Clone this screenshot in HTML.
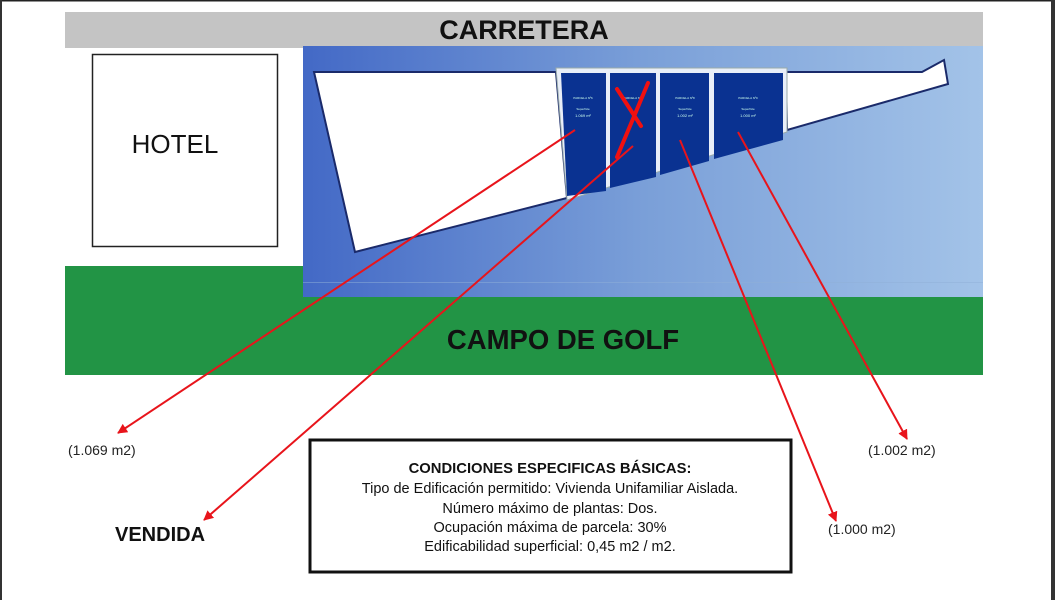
<!DOCTYPE html>
<html><head><meta charset="utf-8"><style>
html,body{margin:0;padding:0;background:#fff;}
body{width:1055px;height:600px;overflow:hidden;position:relative;font-family:"Liberation Sans",sans-serif;}
</style></head><body>
<svg width="1055" height="600" viewBox="0 0 1055 600" xmlns="http://www.w3.org/2000/svg" style="position:absolute;left:0;top:0">
<defs>
<linearGradient id="bg" x1="0" x2="1" y1="0" y2="0">
<stop offset="0" stop-color="#4369c6"/><stop offset="0.5" stop-color="#7a9fd8"/><stop offset="1" stop-color="#a3c3e8"/>
</linearGradient>
<marker id="ah" viewBox="0 0 10 10" refX="9" refY="5" markerWidth="5" markerHeight="5" orient="auto"><path d="M0,0 L10,5 L0,10 z" fill="#e8141b"/></marker>
</defs>
<rect x="0" y="0" width="1055" height="600" fill="#fff"/>
<rect x="0" y="0" width="1055" height="1.5" fill="#222"/>
<rect x="0" y="0" width="2" height="600" fill="#333"/>
<rect x="1051" y="0" width="4" height="600" fill="#333"/>
<rect x="65" y="12" width="918" height="36" fill="#c4c4c4"/>
<text x="524" y="39" font-size="27" font-weight="bold" text-anchor="middle" fill="#111">CARRETERA</text>
<rect x="92.5" y="54.5" width="185" height="192" fill="#fff" stroke="#222" stroke-width="1.5"/>
<text x="175" y="153" font-size="26" text-anchor="middle" fill="#111">HOTEL</text>
<rect x="65" y="266" width="918" height="109" fill="#229445"/>
<rect x="303" y="46" width="680" height="251" fill="url(#bg)"/>
<rect x="303" y="282" width="680" height="1" fill="#8fb0d8" opacity="0.5"/>
<text x="563" y="349" font-size="27.5" font-weight="bold" text-anchor="middle" fill="#111">CAMPO DE GOLF</text>
<polygon points="314,72 556,72 567,198 355,252" fill="#fff" stroke="#1a2a6a" stroke-width="2"/>
<polygon points="786,72 922,72 944,60 948,84 787,130" fill="#fff" stroke="#1a2a6a" stroke-width="2"/>
<polygon points="556,68 787,68 787,132 567,200" fill="#e8eef8" stroke="#9aa" stroke-width="1"/>
<polygon points="561,73 606,73 606,191 567,196" fill="#0a3291"/>
<polygon points="610,73 656,73 656,177 610,188" fill="#0a3291"/>
<polygon points="660,73 709,73 709,161 660,175" fill="#0a3291"/>
<polygon points="714,73 783,73 783,140 714,159" fill="#0a3291"/>
<g font-size="3" fill="#cfe" text-anchor="middle">
<text x="583" y="99">PARCELA Nº6</text><text x="583" y="110">Superficie</text><text x="583" y="117" font-size="4">1.069 m²</text>
<text x="633" y="99">PARCELA Nº7</text>
<text x="685" y="99">PARCELA Nº8</text><text x="685" y="110">Superficie</text><text x="685" y="117" font-size="4">1.002 m²</text>
<text x="748" y="99">PARCELA Nº9</text><text x="748" y="110">Superficie</text><text x="748" y="117" font-size="4">1.000 m²</text>
</g>
<g stroke="#f01010" stroke-width="4" stroke-linecap="round">
<line x1="617" y1="89" x2="641" y2="126"/><line x1="648" y1="83" x2="617" y2="157"/>
</g>
<g stroke="#e8141b" stroke-width="2" fill="none" marker-end="url(#ah)">
<line x1="575" y1="130" x2="118" y2="433"/>
<line x1="633" y1="146" x2="204" y2="520"/>
<line x1="680" y1="140" x2="836" y2="521"/>
<line x1="738" y1="132" x2="907" y2="439"/>
</g>
<g font-size="14" fill="#222">
<text x="68" y="455">(1.069 m2)</text>
<text x="868" y="455">(1.002 m2)</text>
<text x="828" y="534">(1.000 m2)</text>
</g>
<text x="115" y="541" font-size="20" font-weight="bold" fill="#111">VENDIDA</text>
<rect x="310" y="440" width="481" height="132" fill="#fff" stroke="#111" stroke-width="3"/>
<g font-size="14.5" fill="#111" text-anchor="middle">
<text x="550" y="473" font-weight="bold" font-size="14.8">CONDICIONES ESPECIFICAS BÁSICAS:</text>
<text x="550" y="493">Tipo de Edificación permitido: Vivienda Unifamiliar Aislada.</text>
<text x="550" y="513">Número máximo de plantas: Dos.</text>
<text x="550" y="532">Ocupación máxima de parcela: 30%</text>
<text x="550" y="551">Edificabilidad superficial: 0,45 m2 / m2.</text>
</g>
</svg>
</body></html>
